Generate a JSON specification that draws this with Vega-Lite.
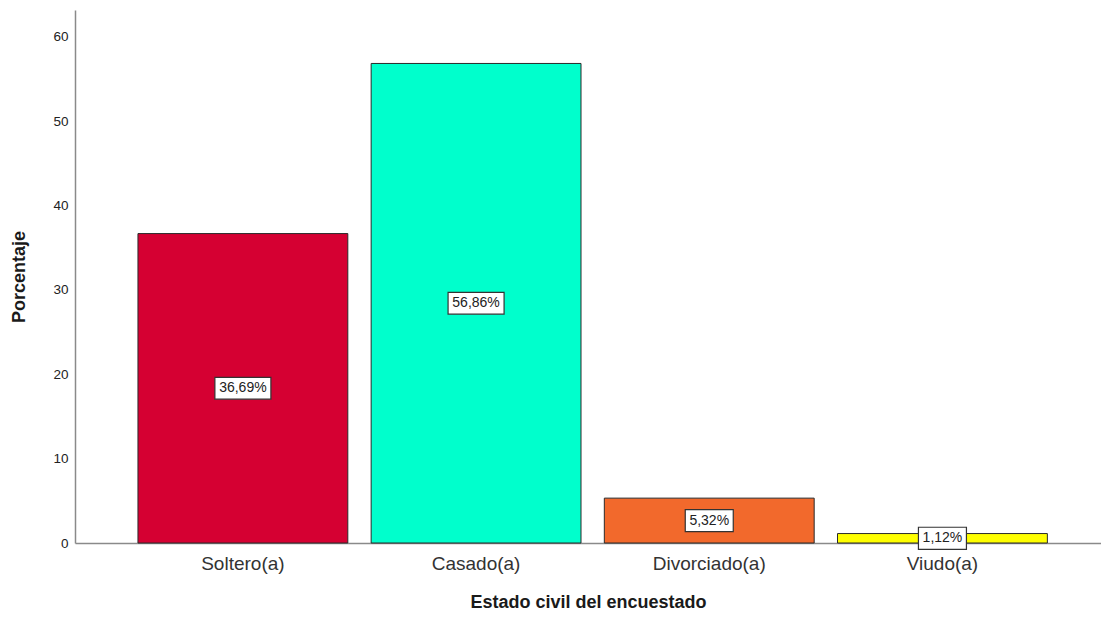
{
  "$schema": "https://vega.github.io/schema/vega-lite/v6.json",
  "autosize": "none",
  "padding": {"left": 75, "top": 10, "right": 0, "bottom": 76},
  "width": 1026,
  "height": 533,
  "background": "white",
  "config": {
    "view": {"stroke": null},
    "font": "Liberation Sans"
  },
  "data": {
    "values": [
      {"estado": "Soltero(a)", "pct": 36.69, "label": "36,69%"},
      {"estado": "Casado(a)", "pct": 56.86, "label": "56,86%"},
      {"estado": "Divorciado(a)", "pct": 5.32, "label": "5,32%"},
      {"estado": "Viudo(a)", "pct": 1.12, "label": "1,12%"}
    ]
  },
  "transform": [{"calculate": "datum.pct / 2", "as": "mid"}],
  "encoding": {
    "x": {
      "field": "estado",
      "type": "nominal",
      "sort": null,
      "scale": {"paddingInner": 0.1, "paddingOuter": 0.25, "align": 0.54},
      "axis": {
        "title": "Estado civil del encuestado",
        "labelAngle": 0,
        "labelFontSize": 19,
        "labelColor": "#333333",
        "labelPadding": 11,
        "ticks": false,
        "domainColor": "#8a8a8a",
        "domainWidth": 1.5,
        "titleFontSize": 18,
        "titleFontWeight": "bold",
        "titleColor": "#1a1a1a",
        "titlePadding": 20
      }
    }
  },
  "layer": [
    {
      "mark": {"type": "bar", "stroke": "#2a2a2a", "strokeWidth": 1},
      "encoding": {
        "y": {
          "field": "pct",
          "type": "quantitative",
          "scale": {"domain": [0, 63.2], "nice": false},
          "axis": {
            "title": "Porcentaje",
            "values": [0, 10, 20, 30, 40, 50, 60],
            "grid": false,
            "ticks": false,
            "labelPadding": 7,
            "labelFontSize": 13.5,
            "labelColor": "#222222",
            "domainColor": "#8a8a8a",
            "domainWidth": 1.5,
            "titleFontSize": 18,
            "titleFontWeight": "bold",
            "titleColor": "#1a1a1a",
            "titlePadding": 24
          }
        },
        "color": {
          "field": "estado",
          "type": "nominal",
          "sort": null,
          "scale": {
            "domain": ["Soltero(a)", "Casado(a)", "Divorciado(a)", "Viudo(a)"],
            "range": ["#D50032", "#00FFCC", "#F2692C", "#FFFF00"]
          },
          "legend": null
        }
      }
    },
    {
      "mark": {"type": "point", "filled": true, "fill": "white", "stroke": "#333333", "strokeWidth": 1.2, "opacity": 1},
      "encoding": {
        "y": {"field": "mid", "type": "quantitative"},
        "size": {"condition": {"test": "datum.pct >= 10", "value": 3136}, "value": 2304},
        "shape": {"condition": {"test": "datum.pct >= 10", "value": "M-1,-0.39L1,-0.39L1,0.39L-1,0.39Z"}, "value": "M-1,-0.46L1,-0.46L1,0.46L-1,0.46Z"}
      }
    },
    {
      "mark": {"type": "text", "fontSize": 14, "color": "#222222"},
      "encoding": {
        "y": {"field": "mid", "type": "quantitative"},
        "text": {"field": "label"}
      }
    }
  ]
}
